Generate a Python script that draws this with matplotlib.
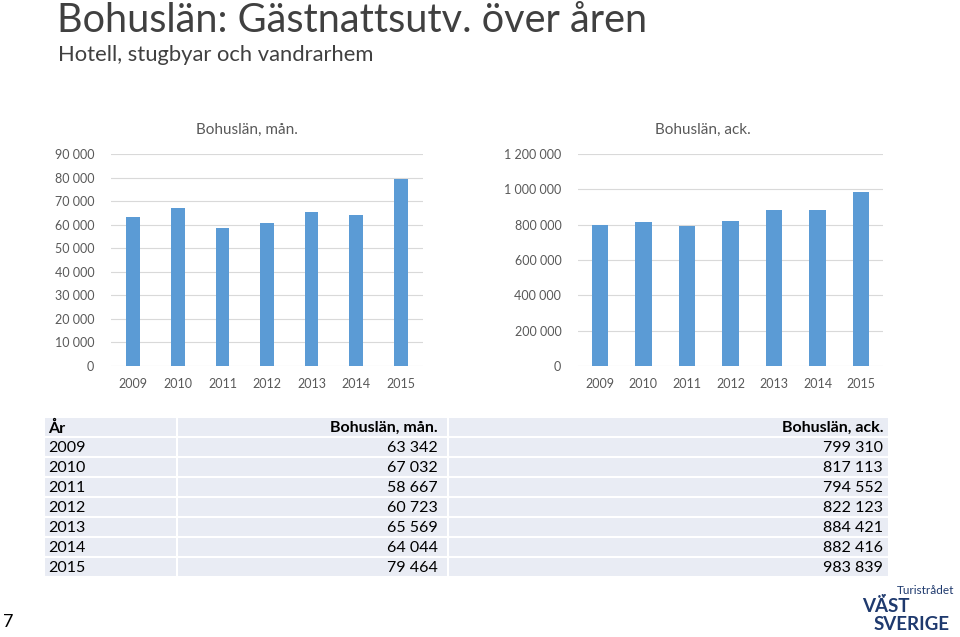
import matplotlib
matplotlib.use("Agg")
from matplotlib import pyplot
from matplotlib.patches import Rectangle
import matplotlib.ticker

years = ["2009", "2010", "2011", "2012", "2013", "2014", "2015"]
monthly = [63342, 67032, 58667, 60723, 65569, 64044, 79464]
cumulative = [799310, 817113, 794552, 822123, 884421, 882416, 983839]
monthly_label = "Bohuslän, mån."
cumulative_label = "Bohuslän, ack."
title = "Bohuslän: Gästnattsutv. över åren"
subtitle = "Hotell, stugbyar och vandrarhem"

bar_color = "#5b9bd5"
grid_color = "#d9d9d9"
tick_color = "#595959"
font = ["Lato", "DejaVu Sans"]

pyplot.rcParams["font.family"] = font


def fmt_space(v, pos=None):
    return f"{int(v):,}".replace(",", " ")


def bar_chart(fig, rect, values, ymax, step, width):
    ax = fig.add_axes(rect)
    x = range(len(years))
    ax.bar(x, values, width=width, color=bar_color, zorder=3)
    ax.set_xlim(-0.5, len(years) - 0.5)
    ax.set_ylim(0, ymax)
    ax.set_yticks(range(0, ymax + 1, step))
    ax.yaxis.set_major_formatter(matplotlib.ticker.FuncFormatter(fmt_space))
    ax.set_xticks(list(x))
    ax.set_xticklabels(years)
    ax.grid(axis="y", color=grid_color, linewidth=0.8, zorder=0)
    for s in ax.spines.values():
        s.set_visible(False)
    ax.tick_params(length=0, colors=tick_color, labelsize=9)
    ax.tick_params(axis="y", pad=12)
    ax.tick_params(axis="x", pad=9)
    return ax


fig = pyplot.figure(figsize=(9.6, 6.37), dpi=100, facecolor="w")

bar_chart(fig, [111 / 960, 1 - 366 / 637, 312 / 960, 212 / 637], monthly, 90000, 10000, 0.31)
bar_chart(fig, [578 / 960, 1 - 366 / 637, 305 / 960, 212 / 637], cumulative, 1200000, 200000, 0.38)

# overlay in pixel coordinates for titles, table and logo
ov = fig.add_axes([0, 0, 1, 1], zorder=-1)
ov.set_xlim(0, 960)
ov.set_ylim(637, 0)
ov.axis("off")

ov.text(57, 20, title, fontsize=28.5, color="#404040", va="center", ha="left")
ov.text(58, 55, subtitle, fontsize=15.8, color="#404040", va="center", ha="left")
ov.text(247, 130, monthly_label, fontsize=11, color=tick_color, ha="center", va="center")
ov.text(703, 130, cumulative_label, fontsize=11, color=tick_color, ha="center", va="center")

# table
cols = [(45, 176), (178, 447), (449, 888)]
row_h = 20
top = 418
rows = [("År", monthly_label, cumulative_label)] + [
    (y, fmt_space(m), fmt_space(c)) for y, m, c in zip(years, monthly, cumulative)
]
for i, row in enumerate(rows):
    y0 = top + i * row_h
    for j, (x0, x1) in enumerate(cols):
        ov.add_patch(Rectangle((x0, y0), x1 - x0, row_h - 2, facecolor="#e9ecf4", edgecolor="none"))
        ha = "left" if j == 0 else "right"
        xt = x0 + 3 if j == 0 else x1 - (9 if j == 1 else 5)
        ov.text(xt, y0 + row_h / 2, row[j], fontsize=11.5, color="black", ha=ha, va="center",
                fontweight="bold" if i == 0 else "normal")

# page number and logo
ov.text(8, 622, "7", fontsize=13, color="black", ha="center", va="center")
ov.text(897, 591, "Turistrådet", fontsize=8.5, color="#1f3a6e", ha="left", va="center")
ov.text(880, 596, "..", fontsize=10, color="#1f3a6e", ha="left", va="baseline", fontweight="bold")
ov.text(862, 606, "VÄST", fontsize=13.5, color="#1f3a6e", ha="left", va="center", fontweight="bold")
ov.text(874, 625, "SVERIGE", fontsize=13.5, color="#1f3a6e", ha="left", va="center", fontweight="bold")

pyplot.savefig("out.png", dpi=100, facecolor="w")
